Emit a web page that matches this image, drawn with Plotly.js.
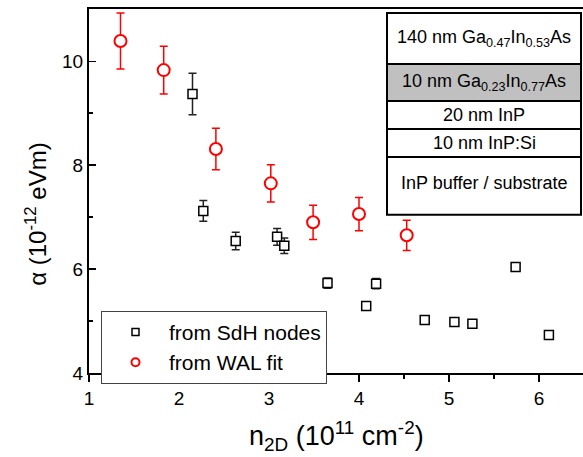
<!DOCTYPE html>
<html>
<head>
<meta charset="utf-8">
<script src="https://cdn.plot.ly/plotly-3.0.1.min.js"></script>
<style>html,body{margin:0;padding:0;background:#fff;}#chart{width:583px;height:457px;}</style>
</head>
<body>
<div id="chart"></div>
<script>
// SdH nodes data
const sdhN = [2.15, 2.27, 2.63, 3.09, 3.17, 3.65, 4.08, 4.19, 4.73, 5.06, 5.26, 5.74, 6.11];
const sdhAlpha = [9.37, 7.12, 6.54, 6.62, 6.45, 5.73, 5.29, 5.72, 5.02, 4.98, 4.95, 6.04, 4.73];
const sdhErr = [0.40, 0.20, 0.17, 0.16, 0.15, 0.10, 0.06, 0.10, 0.03, 0.03, 0.03, 0.08, 0.03];
// WAL fit data
const walN = [1.35, 1.83, 2.41, 3.02, 3.49, 4.00, 4.53];
const walAlpha = [10.39, 9.83, 8.31, 7.65, 6.90, 7.06, 6.65];
const walErr = [0.54, 0.46, 0.40, 0.36, 0.33, 0.32, 0.29];
// layer stack labels
const layerLabels = [
  "140 nm Ga<sub>0.47</sub>In<sub>0.53</sub>As",
  "10 nm Ga<sub>0.23</sub>In<sub>0.77</sub>As",
  "20 nm InP",
  "10 nm InP:Si",
  "InP buffer / substrate"
];
const legendNames = ["from SdH nodes", "from WAL fit"];

const FONT = "Liberation Sans, Arial, sans-serif";
const L = 89, T = 9, W = 494, H = 364.3;
const px = x => (x - L) / W;
const py = y => (T + H - y) / H;

const traces = [
  {
    x: sdhN, y: sdhAlpha, name: legendNames[0], type: 'scatter', mode: 'markers', showlegend: false,
    marker: {symbol: 'square', size: 9, color: '#fff', line: {color: '#000', width: 1.5}},
    error_y: {type: 'data', array: sdhErr, visible: true, color: '#222', thickness: 1.5, width: 4}
  },
  {
    x: walN, y: walAlpha, name: legendNames[1], type: 'scatter', mode: 'markers', showlegend: false,
    marker: {symbol: 'circle', size: 12, color: '#fff', line: {color: '#ff0000', width: 2}},
    error_y: {type: 'data', array: walErr, visible: true, color: '#ff0000', thickness: 1.5, width: 4}
  },
  // legend-only entries with smaller symbols
  {
    x: [null], y: [null], name: legendNames[0], type: 'scatter', mode: 'markers',
    marker: {symbol: 'square', size: 7, color: '#fff', line: {color: '#000', width: 1.5}}
  },
  {
    x: [null], y: [null], name: legendNames[1], type: 'scatter', mode: 'markers',
    marker: {symbol: 'circle', size: 8, color: '#fff', line: {color: '#ff0000', width: 2}}
  }
];

// layer box rows (pixel y boundaries)
const rowEdges = [13, 64, 101, 129, 157, 215];
const boxL = 387, boxR = 581;
const shapes = [];
const annotations = [];
for (let i = 0; i < layerLabels.length; i++) {
  shapes.push({
    type: 'rect', xref: 'paper', yref: 'paper',
    x0: px(boxL), x1: px(boxR), y0: py(rowEdges[i + 1]), y1: py(rowEdges[i]),
    fillcolor: i === 1 ? '#c0c0c0' : '#ffffff',
    line: {color: '#000', width: 2}, layer: 'above'
  });
  annotations.push({
    xref: 'paper', yref: 'paper', x: px((boxL + boxR) / 2), y: py((rowEdges[i] + rowEdges[i + 1]) / 2 - (i === 4 ? 3 : 0)),
    text: layerLabels[i], showarrow: false, xanchor: 'center', yanchor: 'middle',
    font: {family: FONT, size: 18, color: '#000'}
  });
}
annotations.push({
  xref: 'paper', yref: 'paper', x: px(36), y: py(214), xanchor: 'center', yanchor: 'middle',
  text: "α (10<sup>-12</sup> eVm)", textangle: -90, showarrow: false,
  font: {family: FONT, size: 24, color: '#000'}
});
annotations.push({
  xref: 'paper', yref: 'paper', x: px(336), y: py(436), xanchor: 'center', yanchor: 'middle',
  text: "n<sub>2D</sub> (10<sup>11</sup> cm<sup>-2</sup>)", showarrow: false,
  font: {family: FONT, size: 27, color: '#000'}
});

const layout = {
  width: 583, height: 457,
  margin: {l: L, r: 0, t: T, b: 457 - T - H},
  paper_bgcolor: '#fff', plot_bgcolor: '#fff',
  font: {family: FONT, color: '#000'},
  showlegend: true,
  legend: {
    x: px(101), y: py(311), xanchor: 'left', yanchor: 'top',
    bgcolor: '#fff', bordercolor: '#444', borderwidth: 1,
    font: {family: FONT, size: 21, color: '#000'}, itemwidth: 57, tracegroupgap: 0
  },
  xaxis: {
    range: [1, 1 + W / 90], showgrid: false, zeroline: false,
    showline: true, linecolor: '#000', linewidth: 2, mirror: true,
    ticks: 'outside', ticklen: 7, tickwidth: 1.5, tickcolor: '#000', dtick: 1, tick0: 1,
    tickfont: {family: FONT, size: 19, color: '#000'},
    minor: {dtick: 0.5, ticks: 'outside', ticklen: 4, tickwidth: 1.5, tickcolor: '#000'}
  },
  yaxis: {
    range: [4, 4 + H / 52], showgrid: false, zeroline: false,
    showline: true, linecolor: '#000', linewidth: 2,
    ticks: 'inside', ticklen: 7, tickwidth: 1.5, tickcolor: '#000', dtick: 2, tick0: 4,
    tickfont: {family: FONT, size: 19, color: '#000'},
    minor: {dtick: 1, ticks: 'inside', ticklen: 4, tickwidth: 1.5, tickcolor: '#000'}
  },
  shapes: shapes,
  annotations: annotations
};

Plotly.newPlot('chart', traces, layout, {displayModeBar: false, staticPlot: true});
</script>
</body>
</html>
